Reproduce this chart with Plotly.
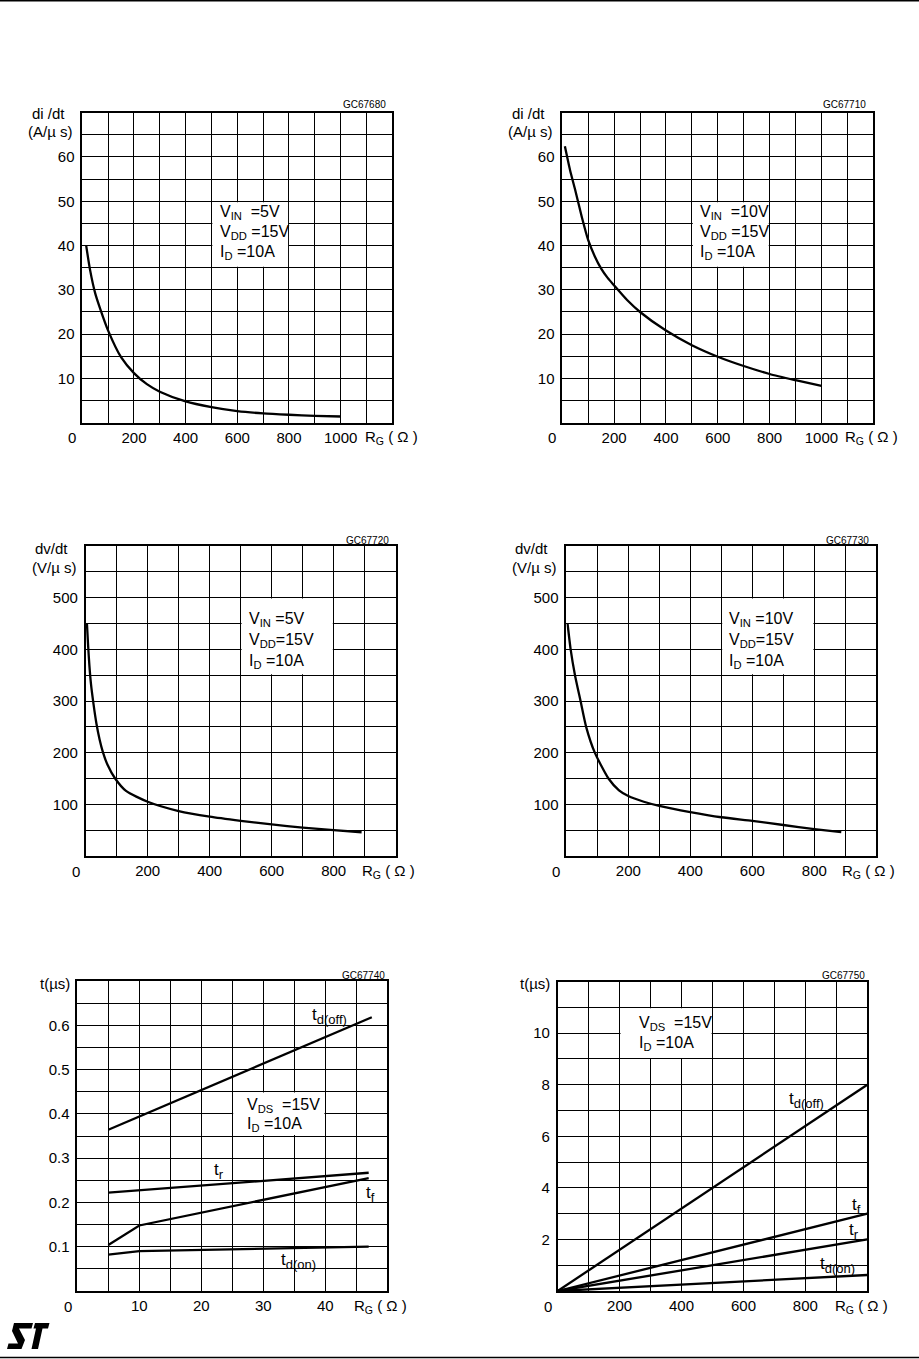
import plotly.graph_objects as go

W, H = 919, 1359

# ---------------- data ----------------
# Panel 1: di/dt vs RG  (VIN=5V, VDD=15V, ID=10A)
rg_didt_5v = [15, 30, 50, 70, 100, 150, 200, 250, 300, 400, 500, 600, 700, 800, 900, 1000]
didt_5v = [40, 34.5, 29.2, 25.6, 20.8, 14.8, 11.2, 8.7, 7.0, 4.8, 3.5, 2.6, 2.1, 1.8, 1.55, 1.4]

# Panel 2: di/dt vs RG  (VIN=10V)
rg_didt_10v = [10, 30, 50, 75, 100, 125, 150, 175, 200, 250, 300, 400, 500, 600, 700, 800, 900, 1000]
didt_10v = [62.4, 57, 52.5, 46.5, 41.2, 37.6, 34.8, 32.7, 31, 27.7, 25, 20.8, 17.5, 14.9, 12.8, 11.0, 9.6, 8.3]

# Panel 3: dv/dt vs RG  (VIN=5V)
rg_dvdt_5v = [4, 8, 12, 17, 25, 35, 45, 55, 70, 95, 130, 200, 300, 400, 500, 600, 700, 800, 890]
dvdt_5v = [450, 405, 368, 333, 295, 255, 225, 202, 177, 150, 126, 105, 87, 76, 68, 61, 55, 50, 46]

# Panel 4: dv/dt vs RG  (VIN=10V)
rg_dvdt_10v = [4, 14, 28, 46, 64, 92, 136, 170, 200, 250, 300, 400, 500, 600, 700, 800, 887]
dvdt_10v = [450, 400, 350, 300, 250, 200, 150, 127, 116, 105, 97, 85, 75, 68, 60, 52, 46]

# Panel 5: switching times vs RG (0-50 ohm)
rg_td_off_a = [5, 47.5]
td_off_a = [0.364, 0.618]
rg_tr_a = [5, 47]
tr_a = [0.222, 0.267]
rg_tf_a = [5, 10, 47]
tf_a = [0.104, 0.148, 0.255]
rg_td_on_a = [5, 10, 47]
td_on_a = [0.082, 0.090, 0.100]

# Panel 6: switching times vs RG (0-1000 ohm)
rg_b = [0, 1000]
td_off_b = [0, 8.0]
tf_b = [0, 3.0]
tr_b = [0, 2.0]
td_on_b = [0, 0.62]

# tick labels
xlab_didt = [200, 400, 600, 800, 1000]
ylab_didt = [10, 20, 30, 40, 50, 60]
xlab_dvdt = [200, 400, 600, 800]
ylab_dvdt = [100, 200, 300, 400, 500]
xlab_ta = [10, 20, 30, 40]
ylab_ta = [0.1, 0.2, 0.3, 0.4, 0.5, 0.6]
xlab_tb = [200, 400, 600, 800]
ylab_tb = [2, 4, 6, 8, 10]

FONT = "Liberation Sans, Arial, sans-serif"


def X(px):
    return px / W


def Y(py):
    return 1 - py / H


panels = [
    dict(box=(82.3, 392.3, 112.7, 422.7), xmax=1200, xstep=100, xlab=xlab_didt,
         ymax=70, ystep=5, ylab=ylab_didt, fmt="{:g}"),
    dict(box=(562.3, 873.3, 112.7, 422.7), xmax=1200, xstep=100, xlab=xlab_didt,
         ymax=70, ystep=5, ylab=ylab_didt, fmt="{:g}"),
    dict(box=(85.7, 395.7, 546, 856), xmax=1000, xstep=100, xlab=xlab_dvdt,
         ymax=600, ystep=50, ylab=ylab_dvdt, fmt="{:g}"),
    dict(box=(566.3, 876.3, 546, 856), xmax=1000, xstep=100, xlab=xlab_dvdt,
         ymax=600, ystep=50, ylab=ylab_dvdt, fmt="{:g}"),
    dict(box=(77.3, 387.3, 981, 1291), xmax=50, xstep=5, xlab=xlab_ta,
         ymax=0.7, ystep=0.05, ylab=ylab_ta, fmt="{:.1f}"),
    dict(box=(557.7, 867.3, 981.5, 1291), xmax=1000, xstep=100, xlab=xlab_tb,
         ymax=12, ystep=1, ylab=ylab_tb, fmt="{:g}"),
]

fig = go.Figure()
layout = dict(width=W, height=H, autosize=False, margin=dict(l=0, r=0, t=0, b=0),
              paper_bgcolor="white", plot_bgcolor="white", showlegend=False,
              font=dict(family=FONT, color="black", size=15))
shapes = []
annotations = []


def sfx(i):
    return "" if i == 0 else str(i + 1)


for i, p in enumerate(panels):
    s = sfx(i)
    x0, x1, y0, y1 = p["box"]
    nx = int(round(p["xmax"] / p["xstep"]))
    ny = int(round(p["ymax"] / p["ystep"]))
    xv = [round(k * p["xstep"], 6) for k in range(nx + 1)]
    yv = [round(k * p["ystep"], 6) for k in range(ny + 1)]
    xt = [str(v) if any(abs(v - l) < 1e-9 for l in p["xlab"]) else "" for v in xv]
    yt = [p["fmt"].format(v) if any(abs(v - l) < 1e-9 for l in p["ylab"]) else "" for v in yv]
    common = dict(showgrid=True, gridcolor="black", gridwidth=1, showline=True, mirror=True,
                  linecolor="black", linewidth=1.6, ticks="", zeroline=False, fixedrange=True,
                  tickfont=dict(family=FONT, size=15, color="black"))
    layout["xaxis" + s] = dict(domain=[X(x0), X(x1)], range=[0, p["xmax"]], anchor="y" + s,
                               tickvals=xv, ticktext=xt, tickangle=0, ticklabelstandoff=0,
                               **common)
    layout["yaxis" + s] = dict(domain=[Y(y1), Y(y0)], range=[0, p["ymax"]], anchor="x" + s,
                               tickvals=yv, ticktext=yt, ticklabelstandoff=3, **common)

# white text boxes (grid hidden inside)
box_cells = [
    (0, 500, 800, 35, 50),
    (1, 500, 800, 35, 50),
    (2, 500, 800, 350, 500),
    (3, 500, 800, 350, 500),
    (4, 25, 40, 0.35, 0.45),
    (5, 200, 500, 9, 11),
]
for i, bx0, bx1, by0, by1 in box_cells:
    p = panels[i]
    s = sfx(i)
    x0, x1, y0, y1 = p["box"]
    dx = 0.9 * p["xmax"] / (x1 - x0)
    dy = 0.9 * p["ymax"] / (y1 - y0)
    shapes.append(dict(type="rect", xref="x" + s, yref="y" + s, x0=bx0 + dx, x1=bx1 - dx,
                       y0=by0 + dy, y1=by1 - dy, fillcolor="white", line=dict(width=0),
                       layer="between"))

# curves
curves = [
    (0, rg_didt_5v, didt_5v, "spline"),
    (1, rg_didt_10v, didt_10v, "spline"),
    (2, rg_dvdt_5v, dvdt_5v, "spline"),
    (3, rg_dvdt_10v, dvdt_10v, "spline"),
    (4, rg_td_off_a, td_off_a, "linear"),
    (4, rg_tr_a, tr_a, "linear"),
    (4, rg_tf_a, tf_a, "linear"),
    (4, rg_td_on_a, td_on_a, "linear"),
    (5, rg_b, td_off_b, "linear"),
    (5, rg_b, tf_b, "linear"),
    (5, rg_b, tr_b, "linear"),
    (5, rg_b, td_on_b, "linear"),
]
for i, xs, ys, shp in curves:
    s = sfx(i)
    line = dict(color="black", width=2.3, shape=shp)
    if shp == "spline":
        line["smoothing"] = 0.6
    fig.add_trace(go.Scatter(x=xs, y=ys, mode="lines", line=line, xaxis="x" + s,
                             yaxis="y" + s, hoverinfo="skip"))

NB = "\u00a0"


def dann(i, x, y, text, size=16, xanchor="left"):
    s = sfx(i)
    annotations.append(dict(xref="x" + s, yref="y" + s, x=x, y=y, text=text, showarrow=False,
                            xanchor=xanchor, yanchor="middle",
                            font=dict(family=FONT, size=size, color="black")))


def pann(px, py, text, size=15, xanchor="center"):
    annotations.append(dict(xref="paper", yref="paper", x=X(px), y=Y(py), text=text,
                            showarrow=False, xanchor=xanchor, yanchor="middle",
                            font=dict(family=FONT, size=size, color="black")))


# condition texts
cond_a = ["V<sub>IN</sub>" + NB * 2 + "=5V", "V<sub>DD</sub>" + NB + "=15V", "I<sub>D</sub>" + NB + "=10A"]
cond_b = ["V<sub>IN</sub>" + NB * 2 + "=10V", "V<sub>DD</sub>" + NB + "=15V", "I<sub>D</sub>" + NB + "=10A"]
cond_c = ["V<sub>IN</sub>" + NB + "=5V", "V<sub>DD</sub>=15V", "I<sub>D</sub>" + NB + "=10A"]
cond_d = ["V<sub>IN</sub>" + NB + "=10V", "V<sub>DD</sub>=15V", "I<sub>D</sub>" + NB + "=10A"]
cond_e = ["V<sub>DS</sub>" + NB * 2 + "=15V", "I<sub>D</sub>" + NB + "=10A"]

for t, yy in zip(cond_a, [47.4, 42.9, 38.4]):
    dann(0, 525, yy, t)
for t, yy in zip(cond_b, [47.4, 42.9, 38.4]):
    dann(1, 525, yy, t)
for t, yy in zip(cond_c, [456.8, 416.8, 376]):
    dann(2, 521, yy, t)
for t, yy in zip(cond_d, [456.8, 416.8, 376]):
    dann(3, 519, yy, t)
for t, yy in zip(cond_e, [0.42, 0.375]):
    dann(4, 27.0, yy, t)
for t, yy in zip(cond_e, [10.39, 9.59]):
    dann(5, 255, yy, t)


def tlabel(sub):
    return "t<sub><span style='font-size:13px'>" + sub + "</span></sub>"


# curve labels
dann(4, 37.6, 0.620, tlabel("d(off)"), 17)
dann(4, 21.8, 0.272, tlabel("r"), 17)
dann(4, 46.2, 0.219, tlabel("f"), 17)
dann(4, 32.5, 0.068, tlabel("d(on)"), 17)
dann(5, 742, 7.40, tlabel("d(off)"), 17)
dann(5, 943, 3.30, tlabel("f"), 17)
dann(5, 935, 2.33, tlabel("r"), 17)
dann(5, 841, 1.01, tlabel("d(on)"), 17)

# y-axis titles
pann(48.5, 113, "di /dt")
pann(50, 131, "(A/\u00b5 s)")
pann(528.5, 113, "di /dt")
pann(530, 131, "(A/\u00b5 s)")
pann(51, 548, "dv/dt")
pann(54, 567, "(V/\u00b5 s)")
pann(531, 548, "dv/dt")
pann(534, 567, "(V/\u00b5 s)")
pann(54.7, 983.5, "t(\u00b5s)")
pann(534.7, 983.5, "t(\u00b5s)")

# figure codes
for px, py, code in [(388, 105, "GC67680"), (868, 105, "GC67710"), (391, 540, "GC67720"),
                     (871, 540, "GC67730"), (387, 975, "GC67740"), (867, 975, "GC67750")]:
    pann(px, py, code, size=10, xanchor="right")

# corner zeros and x-axis titles
for px, py in [(72, 437.7), (552, 437.7), (75.8, 871.7), (555.8, 871.7), (67.7, 1306.7),
               (547.7, 1306.7)]:
    pann(px, py, "0")
for px, py in [(363, 437.7), (843, 437.7), (360, 871.7), (840, 871.7), (351.7, 1306.7),
               (832.7, 1306.7)]:
    pann(px, py, "R<sub>G</sub>" + NB + "(" + NB + "\u03a9" + NB + ")", xanchor="left")

# page rules
shapes.append(dict(type="line", xref="paper", yref="paper", x0=0, x1=1, y0=Y(0.8), y1=Y(0.8),
                   line=dict(color="black", width=1.6)))
shapes.append(dict(type="line", xref="paper", yref="paper", x0=0, x1=1, y0=Y(1357.5),
                   y1=Y(1357.5), line=dict(color="black", width=1.6)))


# ST logo (graphic)
def path_px(pts):
    d = "M " + " L ".join(f"{X(a):.5f},{Y(b):.5f}" for a, b in pts) + " Z"
    return d


logo_s = [(14, 1323), (33, 1323), (31.5, 1328.5), (19, 1328.5), (25, 1340), (21.5, 1349),
          (7, 1349), (8.5, 1343.5), (18, 1343.5), (12, 1331)]
logo_t = [(35, 1323), (49.5, 1323), (48, 1328.5), (42.5, 1328.5), (38, 1349), (31.5, 1349),
          (36, 1328.5), (33.5, 1328.5)]
for pts in (logo_s, logo_t):
    shapes.append(dict(type="path", xref="paper", yref="paper", path=path_px(pts),
                       fillcolor="black", line=dict(width=0)))

layout["shapes"] = shapes
layout["annotations"] = annotations
fig.update_layout(**layout)
fig.write_html("out.html", config={"displayModeBar": False},
               post_script="document.body.style.margin='0';document.body.style.overflow='hidden';")
